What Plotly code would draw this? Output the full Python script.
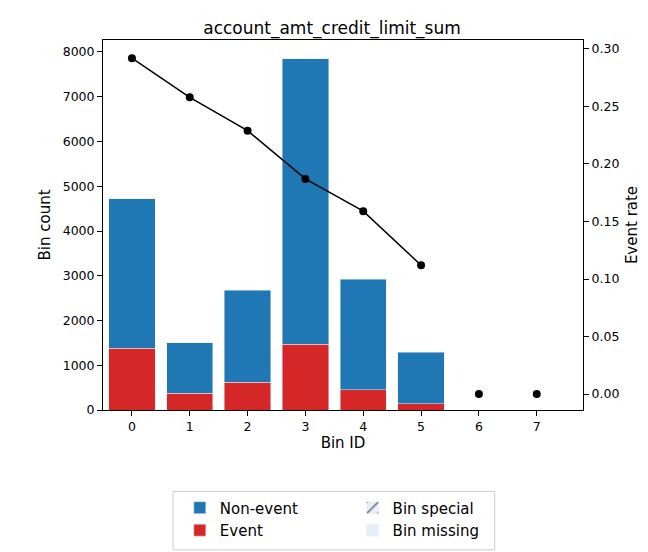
import plotly.graph_objects as go

bins = [0, 1, 2, 3, 4, 5, 6, 7]
bar_bins = [0, 1, 2, 3, 4, 5]
total = [4720, 1500, 2680, 7850, 2920, 1290]
event = [1380, 370, 620, 1470, 450, 140]
nonevent = [t - e for t, e in zip(total, event)]
event_rate = [0.292, 0.258, 0.229, 0.187, 0.159, 0.112, 0.0, 0.0]

blue = "#1f77b4"
red = "#d62728"
fig = go.Figure()
fig.add_bar(x=bar_bins, y=event, marker_color=red, name="Event", width=0.8, legend="legend")
fig.add_bar(x=bar_bins, y=nonevent, marker_color=blue, name="Non-event", width=0.8, legend="legend")
fig.add_bar(x=[None], y=[None], name="Bin special", legend="legend2",
            marker=dict(color="#e6eff7", pattern=dict(shape="/", fgcolor="black", size=14)))
fig.add_bar(x=[None], y=[None], name="Bin missing", legend="legend2",
            marker=dict(color="#e6eff7", pattern=dict(shape="\\", fgcolor="#e6eff7", size=14)))
fig.add_scatter(x=bins[:6], y=event_rate[:6], yaxis="y2", mode="lines+markers",
                line=dict(color="black", width=1.5), marker=dict(color="black", size=8), showlegend=False)
fig.add_scatter(x=bins[6:], y=event_rate[6:], yaxis="y2", mode="markers",
                marker=dict(color="black", size=8), showlegend=False)

axis_common = dict(showline=True, linecolor="black", ticks="outside", automargin=False,
                   tickcolor="black", showgrid=False, zeroline=False,
                   tickfont=dict(size=12.5, color="black"))
fig.update_layout(
    width=648, height=552, barmode="stack", plot_bgcolor="white", paper_bgcolor="white",
    font=dict(family="DejaVu Sans", color="black"),
    margin=dict(l=95, r=73, t=32, b=150, autoexpand=False),
    title=dict(text="account_amt_credit_limit_sum", x=0.5, xanchor="center", y=0.975,
               font=dict(size=17)),
    xaxis=dict(range=[-0.5, 7.8], tickvals=bins, title=dict(text="Bin ID", font=dict(size=15), standoff=4),
               mirror=True, **axis_common),
    yaxis=dict(range=[0, 8268], dtick=1000, title=dict(text="Bin count", font=dict(size=15), standoff=8),
               mirror=True, **axis_common),
    yaxis2=dict(overlaying="y", side="right", range=[-0.0139, 0.3078], tickvals=[0, 0.05, 0.1, 0.15, 0.2, 0.25, 0.3],
                tickformat=".2f", title=dict(text="Event rate", font=dict(size=15), standoff=8), **axis_common),
    legend=dict(x=0.16, y=-0.22, xanchor="left", yanchor="top", font=dict(size=15),
                traceorder="reversed", tracegroupgap=2, bgcolor="rgba(0,0,0,0)"),
    legend2=dict(x=0.52, y=-0.22, xanchor="left", yanchor="top", font=dict(size=15),
                 traceorder="normal", tracegroupgap=2, bgcolor="rgba(0,0,0,0)"),
    shapes=[dict(type="rect", xref="paper", yref="paper", x0=0.146, x1=0.816, y0=-0.378, y1=-0.22,
                 line=dict(color="#cccccc", width=1))],
)
fig.write_html("out.html")
